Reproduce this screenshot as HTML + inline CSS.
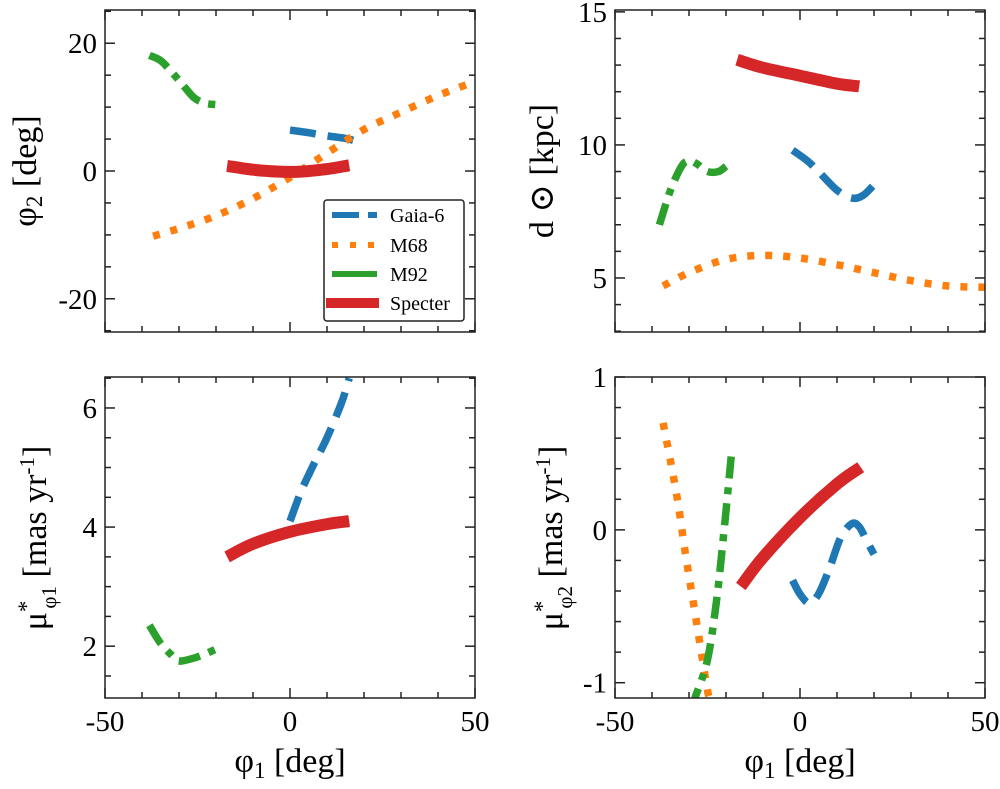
<!DOCTYPE html>
<html><head><meta charset="utf-8">
<style>
body{margin:0;background:#fff;}
svg text{font-family:"Liberation Serif","DejaVu Serif",serif;fill:#000;}
</style></head>
<body>
<svg id="c" width="1000" height="784" viewBox="0 0 1000 784" xmlns="http://www.w3.org/2000/svg"></svg>
<script>
// ---- data ----
const tlM92x=[-38,-35,-32,-29,-26,-23,-20];
const tlM92y=[18.1,17.3,15.5,13.5,11.5,10.6,10.4];
const tlGaiax=[0,5,10,15,19];
const tlGaiay=[6.4,6.0,5.5,5.1,4.5];
const tlM68x=[-37,-30,-20,-10,0,10,20,30,40,50];
const tlM68y=[-10.2,-9,-7,-4.3,-1,2.8,6.5,9.2,11.8,14];
const tlSpx=[-17,-10,-3,3,10,16];
const tlSpy=[0.8,0.2,-0.1,-0.1,0.3,0.9];

const trSpx=[-17,-10,0,10,16];
const trSpy=[13.2,12.9,12.6,12.3,12.2];
const trGaiax=[-2,2,5,10,14,17,20];
const trGaiay=[9.8,9.4,9.0,8.3,8.0,8.1,8.5];
const trM92x=[-38,-35,-32,-30,-28,-25,-22,-20];
const trM92y=[7.0,8.3,9.2,9.4,9.3,9.0,9.0,9.2];
const trM68x=[-37,-30,-20,-10,0,10,20,30,40,50];
const trM68y=[4.7,5.2,5.7,5.85,5.75,5.5,5.2,4.9,4.7,4.65];

const blSpx=[-17,-10,0,10,16];
const blSpy=[3.5,3.72,3.92,4.05,4.1];
const blGaiax=[0,3,6,10,14,16];
const blGaiay=[4.1,4.6,5.0,5.5,6.1,6.5];
const blM92x=[-38,-35,-32,-30,-25,-20];
const blM92y=[2.35,2.05,1.85,1.75,1.82,1.95];

const brSpx=[-16,-10,0,10,16.4];
const brSpy=[-0.37,-0.18,0.08,0.3,0.41];
const brM68x=[-37,-35,-33,-31,-29,-27,-25,-24.3];
const brM68y=[0.7,0.45,0.18,-0.15,-0.45,-0.75,-1.05,-1.1];
const brM92x=[-18.6,-20.5,-22.5,-25,-28.4];
const brM92y=[0.48,0.0,-0.45,-0.85,-1.1];
const brGaiax=[-2,0,2.5,5,8,11,14,16,18,20];
const brGaiay=[-0.33,-0.42,-0.48,-0.42,-0.25,-0.05,0.04,0.02,-0.07,-0.16];

const xTickVals=[-50,0,50];
const xTickLabels=["-50","0","50"];

const NS="http://www.w3.org/2000/svg";
const svg=document.getElementById('c');
function el(t,a,p){const e=document.createElementNS(NS,t);for(const k in a)e.setAttribute(k,a[k]);(p||svg).appendChild(e);return e;}
const COL={gaia:'#1f77b4',m68:'#ff7f0e',m92:'#2ca02c',sp:'#d62728'};
const STY={gaia:{w:7.5,d:'26 12'},m68:{w:7.5,d:'7 11'},m92:{w:7.5,d:'22 9 7 9'},sp:{w:12,d:''}};

function smooth(P){
  let d='M'+P[0][0].toFixed(1)+','+P[0][1].toFixed(1);
  for(let i=0;i<P.length-1;i++){
    const p0=P[i-1]||P[i],p1=P[i],p2=P[i+1],p3=P[i+2]||P[i+1];
    const c1=[p1[0]+(p2[0]-p0[0])/6,p1[1]+(p2[1]-p0[1])/6];
    const c2=[p2[0]-(p3[0]-p1[0])/6,p2[1]-(p3[1]-p1[1])/6];
    d+='C'+c1[0].toFixed(1)+','+c1[1].toFixed(1)+' '+c2[0].toFixed(1)+','+c2[1].toFixed(1)+' '+p2[0].toFixed(1)+','+p2[1].toFixed(1);
  }
  return d;
}

function panel(name,L,T,W,H,ymin,ymax,majY,minStep,yLabels,xLabels,series){
  const g=el('g',{});
  
  
  const sx=v=>L+(v+50)/100*W;
  const sy=v=>T+(ymax-v)/(ymax-ymin)*H;
  const cp=name+'-clip';
  const cl=el('clipPath',{id:cp},g);el('rect',{x:L,y:T,width:W,height:H},cl);
  const sg=el('g',{'clip-path':'url(#'+cp+')'},g);
  series.forEach(s=>{
    const P=s.x.map((xv,i)=>[sx(xv),sy(s.y[i])]);
    const p=el('path',{d:smooth(P),fill:'none',stroke:COL[s.k],'stroke-width':STY[s.k].w,'stroke-dasharray':STY[s.k].d,'stroke-linecap':'butt','stroke-linejoin':'round'},sg);
    
    
  });
  el('rect',{x:L,y:T,width:W,height:H,fill:'none',stroke:'#222','stroke-width':1.5},g);
  for(let v=-50;v<=50;v+=10){
    const maj=v%50===0;const len=maj?10:6;const x=sx(v);
    el('line',{x1:x,y1:T+H,x2:x,y2:T+H-len,stroke:'#222','stroke-width':1.5},g);
    el('line',{x1:x,y1:T,x2:x,y2:T+len,stroke:'#222','stroke-width':1.5},g);
  }
  const eps=1e-6;
  for(let v=Math.ceil(ymin/minStep-eps)*minStep;v<=ymax+eps;v+=minStep){
    const maj=majY.some(m=>Math.abs(m-v)<eps);const len=maj?10:6;const y=sy(v);
    el('line',{x1:L,y1:y,x2:L+len,y2:y,stroke:'#222','stroke-width':1.5},g);
    el('line',{x1:L+W,y1:y,x2:L+W-len,y2:y,stroke:'#222','stroke-width':1.5},g);
  }
  majY.forEach((v,i)=>{
    const t=el('text',{x:L-8,y:sy(v)+10,'text-anchor':'end','font-size':29},g);t.textContent=yLabels[i];
    
    
  });
  if(xLabels){xTickVals.forEach((v,i)=>{
    const t=el('text',{x:sx(v),y:T+H+33,'text-anchor':'middle','font-size':29},g);t.textContent=xTickLabels[i];
    
    
  });}
  return g;
}

panel('top-left-panel',105,10,370,322,-25.2,25.2,[20,0,-20],5,['20','0','-20'],false,[
 {k:'m92',x:tlM92x,y:tlM92y},{k:'gaia',x:tlGaiax,y:tlGaiay},{k:'m68',x:tlM68x,y:tlM68y},{k:'sp',x:tlSpx,y:tlSpy}]);
panel('top-right-panel',615,10,370,322,2.97,15.07,[15,10,5],1,['15','10','5'],false,[
 {k:'m92',x:trM92x,y:trM92y},{k:'gaia',x:trGaiax,y:trGaiay},{k:'m68',x:trM68x,y:trM68y},{k:'sp',x:trSpx,y:trSpy}]);
panel('bottom-left-panel',105,377,370,321,1.13,6.52,[6,4,2],0.5,['6','4','2'],true,[
 {k:'m92',x:blM92x,y:blM92y},{k:'gaia',x:blGaiax,y:blGaiay},{k:'sp',x:blSpx,y:blSpy}]);
panel('bottom-right-panel',615,377,370,321,-1.1,1.0,[1,0,-1],0.2,['1','0','-1'],true,[
 {k:'m68',x:brM68x,y:brM68y},{k:'m92',x:brM92x,y:brM92y},{k:'gaia',x:brGaiax,y:brGaiay},{k:'sp',x:brSpx,y:brSpy}]);
</script>
<svg width="1000" height="784" style="position:absolute;left:0;top:0" xmlns="http://www.w3.org/2000/svg">
 <g>
  <rect x="324" y="200" width="140" height="121" rx="3" fill="#fff" stroke="#222" stroke-width="1.5"/>
  <line x1="332" y1="215" x2="377" y2="215" stroke="#1f77b4" stroke-width="6" stroke-dasharray="27 9"/>
  <text x="390" y="222" font-size="20">Gaia-6</text>
  <line x1="332" y1="245" x2="377" y2="245" stroke="#ff7f0e" stroke-width="6" stroke-dasharray="6 12"/>
  <text x="390" y="252" font-size="20">M68</text>
  <line x1="332" y1="274" x2="377" y2="274" stroke="#2ca02c" stroke-width="6"/>
  <text x="390" y="281" font-size="20">M92</text>
  <line x1="326" y1="303" x2="379" y2="303" stroke="#d62728" stroke-width="10"/>
  <text x="390" y="310" font-size="20">Specter</text>
 </g>
 <text transform="translate(36,171) rotate(-90)" text-anchor="middle" font-size="34" font-family="Liberation Serif,serif">φ<tspan font-size="23" dy="6">2</tspan><tspan dy="-6"> [deg]</tspan></text>
 <text transform="translate(553,171) rotate(-90)" text-anchor="middle" font-size="34" font-family="Liberation Serif,serif">d ⊙ [kpc]</text>
 <text transform="translate(46,538) rotate(-90)" text-anchor="middle" font-size="34" font-family="Liberation Serif,serif">μ<tspan font-size="23" dy="-12">*</tspan><tspan font-size="21" dx="-8" dy="22">φ1</tspan><tspan dy="-10"> [mas yr</tspan><tspan font-size="21" dy="-12">-1</tspan><tspan dy="12">]</tspan></text>
 <text transform="translate(562,538) rotate(-90)" text-anchor="middle" font-size="34" font-family="Liberation Serif,serif">μ<tspan font-size="23" dy="-12">*</tspan><tspan font-size="21" dx="-8" dy="22">φ2</tspan><tspan dy="-10"> [mas yr</tspan><tspan font-size="21" dy="-12">-1</tspan><tspan dy="12">]</tspan></text>
 <text x="290" y="772" text-anchor="middle" font-size="34" font-family="Liberation Serif,serif">φ<tspan font-size="23" dy="6">1</tspan><tspan dy="-6"> [deg]</tspan></text>
 <text x="800" y="772" text-anchor="middle" font-size="34" font-family="Liberation Serif,serif">φ<tspan font-size="23" dy="6">1</tspan><tspan dy="-6"> [deg]</tspan></text>
</svg>
</body></html>
